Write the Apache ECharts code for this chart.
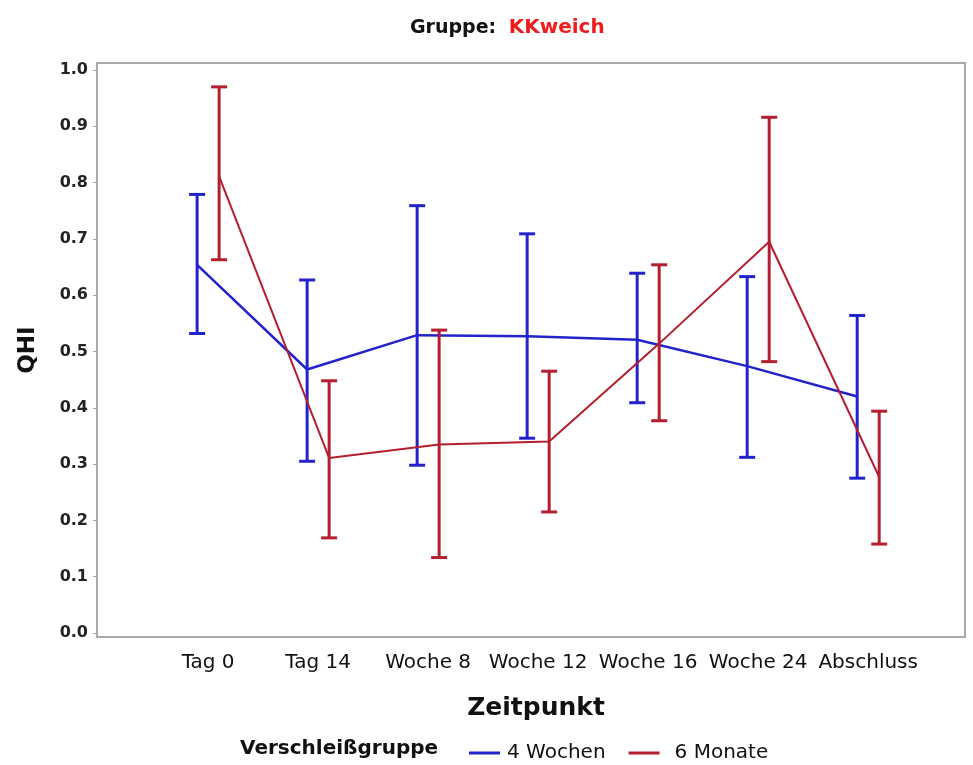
<!DOCTYPE html>
<html><head><meta charset="utf-8">
<script src="https://cdn.jsdelivr.net/npm/echarts@6/dist/echarts.min.js"></script>
<style>html,body{margin:0;padding:0;background:#fff}#c{width:973px;height:765px}</style>
</head><body><div id="c"></div>
<script>
const categories = ['Tag 0','Tag 14','Woche 8','Woche 12','Woche 16','Woche 24','Abschluss'];
const yTicks = [0,0.1,0.2,0.3,0.4,0.5,0.6,0.7,0.8,0.9,1.0];
// 4 Wochen
const wochenMean = [0.654,0.468,0.529,0.527,0.521,0.474,0.420];
const wochenLow  = [0.532,0.305,0.298,0.346,0.409,0.312,0.275];
const wochenHigh = [0.779,0.627,0.759,0.709,0.639,0.633,0.564];
// 6 Monate
const monateMean = [0.811,0.311,0.335,0.340,0.514,0.695,0.277];
const monateLow  = [0.663,0.169,0.134,0.215,0.377,0.482,0.158];
const monateHigh = [0.970,0.448,0.538,0.465,0.654,0.916,0.394];

const BLUE = '#2323cc', RED = '#b31f2e';
const OFF = 0.1;
const font = 'DejaVu Sans, Liberation Sans, Arial, sans-serif';

function lineData(mean, off){ return mean.map((v,i)=>[i+off, v]); }
function barData(lo, hi, off){ return lo.map((v,i)=>[i+off, v, hi[i]]); }
function errRender(color){
  return function(params, api){
    const x = api.value(0);
    const p1 = api.coord([x, api.value(1)]);
    const p2 = api.coord([x, api.value(2)]);
    const hw = 8;
    const st = {stroke: color, lineWidth: 3};
    return {type:'group', children:[
      {type:'line', shape:{x1:p1[0],y1:p1[1],x2:p2[0],y2:p2[1]}, style:st},
      {type:'line', shape:{x1:p1[0]-hw,y1:p1[1],x2:p1[0]+hw,y2:p1[1]}, style:st},
      {type:'line', shape:{x1:p2[0]-hw,y1:p2[1],x2:p2[0]+hw,y2:p2[1]}, style:st}
    ]};
  };
}

const chart = echarts.init(document.getElementById('c'), null, {renderer:'canvas'});
chart.setOption({
  animation:false,
  textStyle:{fontFamily:font},
  title:{
    text:'{a|Gruppe:}  {b|KKweich}', left:405, top:13,
    textStyle:{rich:{
      a:{fontSize:19,fontWeight:'bold',color:'#111',fontFamily:font},
      b:{fontSize:20,fontWeight:'bold',color:'#ee1c1c',fontFamily:font}
    }}
  },
  grid:{left:97,right:8,top:63,bottom:128,show:true,borderColor:'#a8a8a8',borderWidth:2,backgroundColor:'#fff'},
  xAxis:{
    type:'value', min:-1.01, max:6.88,
    name:'Zeitpunkt', nameLocation:'middle', nameGap:59,
    nameTextStyle:{fontSize:25,fontWeight:'bold',color:'#111',fontFamily:font,padding:[0,0,0,10]},
    axisLine:{show:false}, axisTick:{show:false}, splitLine:{show:false},
    axisLabel:{customValues:[0,1,2,3,4,5,6], formatter:v=>categories[Math.round(v)],
      fontSize:20,color:'#111',margin:16,fontFamily:font}
  },
  yAxis:{
    type:'value', min:-0.0071, max:1.0124,
    name:'QHI', nameLocation:'middle', nameGap:57, nameRotate:90,
    nameTextStyle:{fontSize:23,fontWeight:'bold',color:'#111',fontFamily:font},
    axisLine:{show:true,onZero:false,lineStyle:{color:'#a8a8a8',width:2}},
    axisTick:{show:true,customValues:yTicks,length:4,lineStyle:{color:'#a8a8a8'}},
    axisLabel:{customValues:yTicks, formatter:v=>v.toFixed(1), fontSize:16, fontWeight:'bold', color:'#222', margin:9, fontFamily:font},
    splitLine:{show:false}
  },
  legend:{
    left:464, top:738, itemGap:23, itemWidth:31, itemHeight:3, icon:'rect',
    textStyle:{fontSize:20,color:'#111',fontFamily:font,padding:[0,0,0,2]},
    data:[{name:'4 Wochen'},{name:'6 Monate',textStyle:{padding:[0,0,0,10]}}]
  },
  graphic:[{type:'text', left:240, top:739, style:{text:'Verschleißgruppe', font:'bold 20px '+font, fill:'#111'}}],
  series:[
    {name:'4 Wochen', type:'line', data:lineData(wochenMean,-OFF), symbol:'none', color:BLUE, lineStyle:{color:BLUE,width:2.5}, z:3},
    {name:'6 Monate', type:'line', data:lineData(monateMean,OFF), symbol:'none', color:RED, lineStyle:{color:RED,width:2}, z:4},
    {name:'4 Wochen', type:'custom', data:barData(wochenLow,wochenHigh,-OFF), renderItem:errRender(BLUE), color:BLUE, encode:{x:0,y:[1,2]}, z:3},
    {name:'6 Monate', type:'custom', data:barData(monateLow,monateHigh,OFF), renderItem:errRender(RED), color:RED, encode:{x:0,y:[1,2]}, z:4}
  ]
});
</script></body></html>
